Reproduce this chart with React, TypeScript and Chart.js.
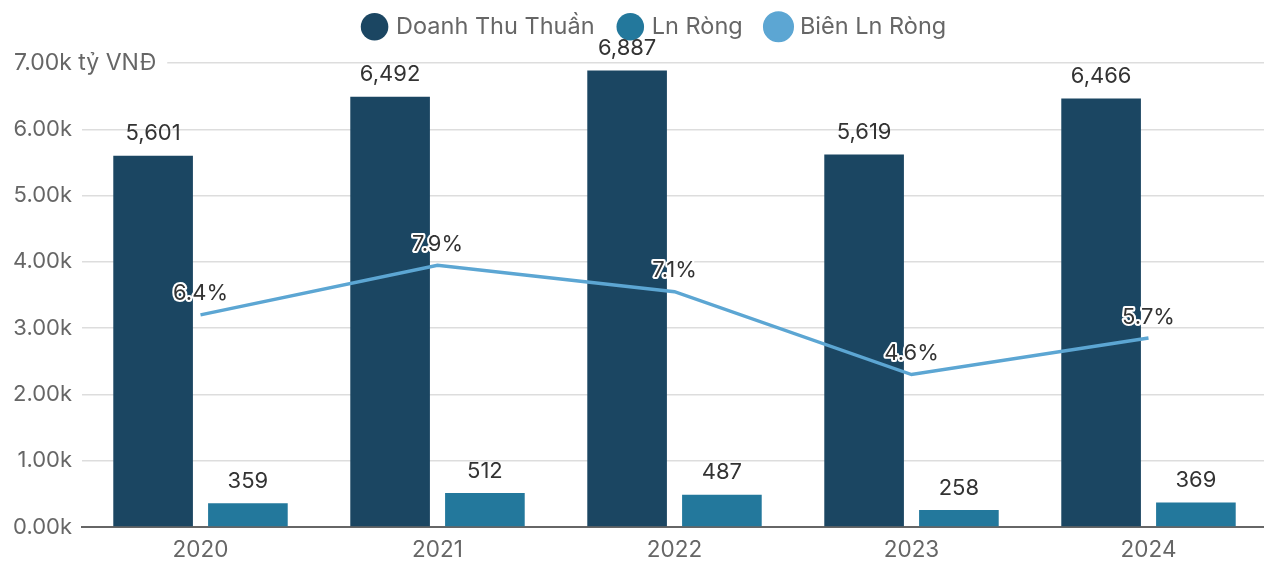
import React, { useEffect, useRef } from "react";
import { Chart, registerables } from "chart.js";

Chart.register(...registerables);

const years = ["2020", "2021", "2022", "2023", "2024"];
const revenue = [5601, 6492, 6887, 5619, 6466];
const netProfit = [359, 512, 487, 258, 369];
const netMargin = [6.4, 7.9, 7.1, 4.6, 5.7];
const seriesNames = ["Doanh Thu Thuần", "Ln Ròng", "Biên Ln Ròng"];
const topTickLabel = "7.00k tỷ VNĐ";

const C_DARK = "#1B4662";
const C_TEAL = "#23789C";
const C_LIGHT = "#5CA6D3";
const FONT = "Inter, 'Noto Sans', sans-serif";

const legendHeightPlugin = {
  id: "legendHeight",
  beforeInit(chart: any) {
    const legend = chart.legend;
    if (!legend) return;
    const origFit = legend.fit;
    legend.fit = function () {
      origFit.call(this);
      this.height = 74;
    };
    const origDraw = legend.draw;
    legend.draw = function () {
      const ctx = this.ctx;
      ctx.save();
      ctx.translate(22, 0);
      origDraw.call(this);
      ctx.restore();
    };
  },
};

const labelPlugin = {
  id: "labelsPlugin",
  beforeDatasetsDraw(chart: any) {
    const ctx = chart.ctx;
    const y = chart.scales.y;
    const py = y.getPixelForValue(7000);
    ctx.save();
    ctx.font = `400 23px ${FONT}`;
    const w = ctx.measureText(topTickLabel).width;
    ctx.fillStyle = "#ffffff";
    ctx.fillRect(0, py - 3, 14 + w + 11, 6);
    ctx.fillStyle = "#666666";
    ctx.textAlign = "left";
    ctx.textBaseline = "middle";
    ctx.fillText(topTickLabel, 14, py);
    ctx.restore();
  },
  afterDatasetsDraw(chart: any) {
    const ctx = chart.ctx;
    ctx.save();
    ctx.font = `400 22px ${FONT}`;
    ctx.textAlign = "center";
    ctx.textBaseline = "middle";
    [0, 1].forEach((di) => {
      const meta = chart.getDatasetMeta(di);
      const data = chart.data.datasets[di].data as number[];
      meta.data.forEach((el: any, i: number) => {
        ctx.fillStyle = "#333333";
        ctx.fillText(data[i].toLocaleString("en-US"), el.x, el.y - 22);
      });
    });
    const lm = chart.getDatasetMeta(2);
    const ld = chart.data.datasets[2].data as number[];
    lm.data.forEach((el: any, i: number) => {
      const t = ld[i].toFixed(1) + "%";
      ctx.lineWidth = 4;
      ctx.strokeStyle = "#ffffff";
      ctx.lineJoin = "round";
      ctx.strokeText(t, el.x, el.y - 21);
      ctx.fillStyle = "#333333";
      ctx.fillText(t, el.x, el.y - 21);
    });
    ctx.restore();
  },
};

export default function App() {
  const ref = useRef<HTMLCanvasElement | null>(null);
  useEffect(() => {
    document.body.style.margin = "0";
    const chart = new Chart(ref.current as HTMLCanvasElement, {
      type: "bar",
      data: {
        labels: years,
        datasets: [
          {
            type: "bar",
            label: seriesNames[0],
            data: revenue,
            backgroundColor: C_DARK,
            order: 1,
            categoryPercentage: 0.8,
            barPercentage: 0.84,
            yAxisID: "y",
          },
          {
            type: "bar",
            label: seriesNames[1],
            data: netProfit,
            backgroundColor: C_TEAL,
            order: 1,
            categoryPercentage: 0.8,
            barPercentage: 0.84,
            yAxisID: "y",
          },
          {
            type: "line",
            label: seriesNames[2],
            data: netMargin,
            borderColor: C_LIGHT,
            backgroundColor: C_LIGHT,
            borderWidth: 3.5,
            pointRadius: 0,
            tension: 0,
            order: 0,
            yAxisID: "y2",
          } as any,
        ],
      },
      options: {
        animation: false,
        responsive: true,
        maintainAspectRatio: false,
        layout: { padding: { left: 0, right: 0, top: -11, bottom: 0 } },
        plugins: {
          tooltip: { enabled: false },
          legend: {
            position: "top",
            labels: {
              usePointStyle: true,
              pointStyle: "circle",
              boxHeight: 19.5,
              boxWidth: 19.5,
              padding: 26,
              color: "#666666",
              font: { family: FONT, size: 23.5 },
              sort: (a: any, b: any) => a.datasetIndex - b.datasetIndex,
            },
          },
        },
        scales: {
          x: {
            afterFit: (s: any) => {
              s.height = 36;
            },
            grid: { display: false, drawTicks: false },
            border: { display: true, color: "#666666", width: 2 },
            ticks: {
              color: "#666666",
              padding: 10,
              font: { family: FONT, size: 22.5 },
            },
          },
          y: {
            min: 0,
            max: 7000,
            afterFit: (s: any) => {
              s.width = 82;
            },
            grid: { color: "#dddddd", lineWidth: 1.5, drawTicks: false },
            border: { display: false },
            ticks: {
              stepSize: 1000,
              padding: 10,
              color: "#666666",
              font: { family: FONT, size: 22 },
              callback: (v: any) =>
                Number(v) === 7000 ? "" : (Number(v) / 1000).toFixed(2) + "k",
            },
          },
          y2: {
            display: false,
            min: 0,
            max: 14,
          },
        },
      },
      plugins: [legendHeightPlugin, labelPlugin],
    });
    return () => chart.destroy();
  }, []);
  return (
    <div
      style={{
        position: "fixed",
        left: 0,
        top: 0,
        width: 1264,
        height: 563,
        overflow: "hidden",
        background: "#fff",
      }}
    >
      <div style={{ width: 1267, height: 563, position: "relative" }}>
        <canvas ref={ref} />
      </div>
    </div>
  );
}
